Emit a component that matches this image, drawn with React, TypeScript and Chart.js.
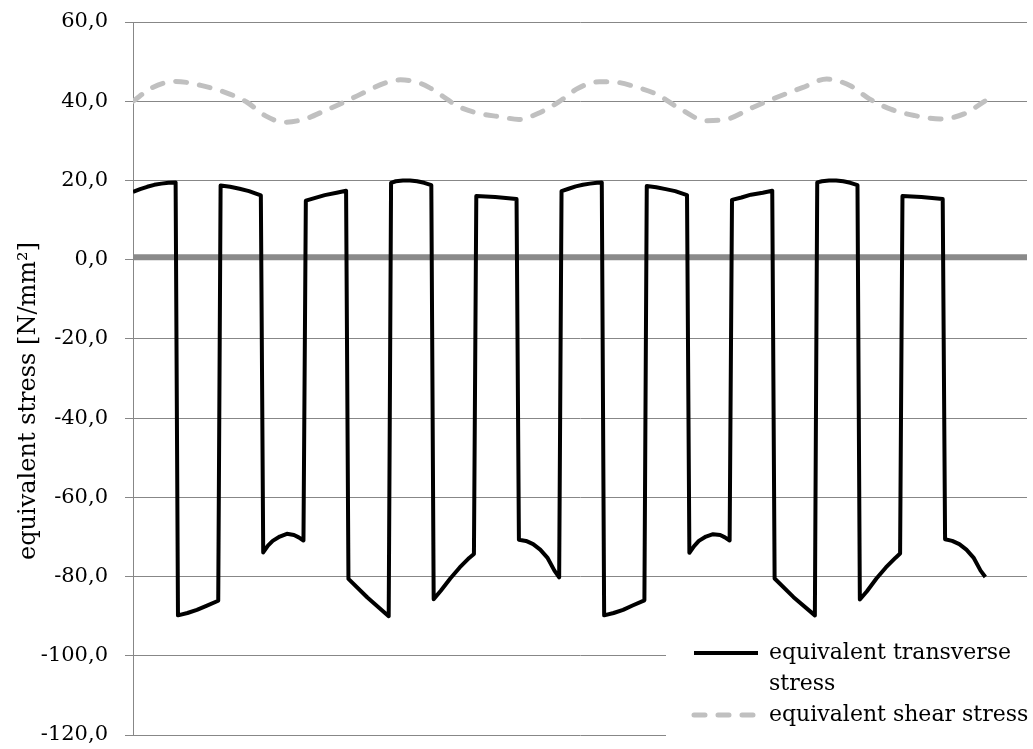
import React, { useEffect, useRef } from 'react';
import { Chart, registerables } from 'chart.js';

Chart.register(...registerables);

// ---- data (angle in degrees, stress in N/mm²) ----
const transverseAngle = [
  0, 3, 6, 9, 12, 15, 18,
  19, 23, 27, 31, 36,
  37, 41, 45, 49, 54,
  55, 57, 59, 62, 65, 68, 70, 72,
  73, 77, 81, 86, 90,
  91, 99, 108,
  109, 111, 114, 117, 120, 123, 126,
  127, 130, 134, 138, 142, 144,
  145, 153, 162,
  163, 166, 169, 172, 175, 178, 180,
  181, 184, 187, 190, 193, 196, 198,
  199, 203, 207, 211, 216,
  217, 221, 225, 229, 234,
  235, 237, 239, 242, 245, 248, 250, 252,
  253, 257, 261, 266, 270,
  271, 279, 288,
  289, 291, 294, 297, 300, 303, 306,
  307, 310, 314, 318, 322, 324,
  325, 333, 342,
  343, 346, 349, 352, 355, 358, 360,
];
const transverseStress = [
  17.1, 17.8, 18.4, 18.9, 19.2, 19.4, 19.5,
  -89.8, -89.2, -88.4, -87.4, -86.1,
  18.7, 18.4, 17.9, 17.3, 16.2,
  -73.9, -72.2, -71.0, -69.9, -69.2, -69.5, -70.1, -70.9,
  14.9, 15.6, 16.3, 16.9, 17.4,
  -80.6, -85.3, -90.0,
  19.4, 19.8, 20.0, 20.0, 19.8, 19.4, 18.8,
  -85.7, -83.6, -80.5, -77.7, -75.3, -74.3,
  16.1, 15.8, 15.3,
  -70.7, -71.0, -71.8, -73.2, -75.2, -78.5, -80.2,
  17.3, 17.9, 18.5, 18.9, 19.2, 19.4, 19.5,
  -89.8, -89.2, -88.4, -87.3, -86.0,
  18.6, 18.3, 17.8, 17.3, 16.3,
  -74.0, -72.3, -71.0, -69.9, -69.3, -69.5, -70.1, -70.9,
  15.1, 15.7, 16.4, 16.9, 17.4,
  -80.5, -85.2, -89.8,
  19.5, 19.8, 20.0, 20.0, 19.8, 19.4, 18.8,
  -85.8, -83.7, -80.5, -77.7, -75.3, -74.2,
  16.1, 15.8, 15.3,
  -70.6, -71.0, -71.8, -73.2, -75.2, -78.5, -80.1,
];

const shearAngle = [
  0, 8, 18, 30, 40, 48, 56, 64, 72, 81, 90,
  99, 106, 113, 120, 125, 131, 137, 147, 155, 163, 171, 180,
  188, 197, 204, 213, 221, 230, 242, 251, 262, 272,
  283, 293, 303, 311, 320, 330, 341, 351, 360,
];
const shearStress = [
  40.0, 43.4, 45.0, 43.8, 42.0, 39.8, 36.3, 34.7, 35.4, 37.6, 40.0,
  42.6, 44.5, 45.4, 44.8, 43.5, 41.2, 38.8, 36.8, 36.1, 35.4, 36.9, 39.9,
  43.3, 44.9, 44.8, 43.5, 41.8, 38.5, 35.1, 35.5, 38.5, 41.0,
  43.5, 45.6, 43.9, 40.6, 38.0, 36.4, 35.5, 36.8, 40.1,
];

const baselineAngle = [0, 377.6];
const baselineStress = [0.6, 0.6];

const xMin = 0;
const xMax = 377.6;
const yMin = -120;
const yMax = 60;
const yStep = 20;

const seriesLabels = ['equivalent transverse stress', 'equivalent shear stress', 'zero'];
const yAxisTitle = 'equivalent stress [N/mm²]';

const FONT = '"DejaVu Serif", serif';

const toPoints = (xs: number[], ys: number[]) => xs.map((x, i) => ({ x, y: ys[i] }));

const overlayPlugin = {
  id: 'overlay',
  afterDraw(chart: any) {
    const ctx: CanvasRenderingContext2D = chart.ctx;
    // y axis title
    ctx.save();
    ctx.translate(29, 401);
    ctx.rotate(-Math.PI / 2);
    ctx.font = `24px ${FONT}`;
    ctx.fillStyle = '#000';
    ctx.textAlign = 'center';
    ctx.textBaseline = 'middle';
    ctx.fillText(yAxisTitle, 0, 0);
    ctx.restore();

    // legend
    ctx.save();
    ctx.fillStyle = '#fff';
    ctx.fillRect(666, 636, 367, 113);
    ctx.font = `22px ${FONT}`;
    ctx.textAlign = 'left';
    ctx.textBaseline = 'middle';
    const lineH = 31;
    const maxW = 266;
    let y = 653;
    [0, 1].forEach((di) => {
      const ds = chart.data.datasets[di];
      const words = String(ds.label).split(' ');
      const lines: string[] = [];
      let cur = '';
      words.forEach((w) => {
        const test = cur ? cur + ' ' + w : w;
        if (ctx.measureText(test).width > maxW && cur) {
          lines.push(cur);
          cur = w;
        } else cur = test;
      });
      if (cur) lines.push(cur);
      ctx.save();
      ctx.strokeStyle = ds.borderColor;
      ctx.lineWidth = ds.borderWidth;
      ctx.lineCap = ds.borderCapStyle || 'butt';
      ctx.setLineDash(ds.borderDash || []);
      ctx.beginPath();
      ctx.moveTo(694, y);
      ctx.lineTo(758, y);
      ctx.stroke();
      ctx.restore();
      ctx.fillStyle = '#000';
      lines.forEach((ln, k) => ctx.fillText(ln, 769, y + k * lineH));
      y += lines.length * lineH;
    });
    ctx.restore();
  },
};

export default function App() {
  const ref = useRef<HTMLCanvasElement | null>(null);

  useEffect(() => {
    if (!ref.current) return;
    const chart = new Chart(ref.current, {
      type: 'line',
      data: {
        datasets: [
          {
            label: seriesLabels[0],
            data: toPoints(transverseAngle, transverseStress),
            borderColor: '#000000',
            borderWidth: 4,
            borderJoinStyle: 'round',
            tension: 0,
            pointRadius: 0,
            fill: false,
          },
          {
            label: seriesLabels[1],
            data: toPoints(shearAngle, shearStress),
            borderColor: '#c0c0c0',
            borderWidth: 5,
            borderDash: [11, 13],
            borderCapStyle: 'round',
            cubicInterpolationMode: 'monotone',
            pointRadius: 0,
            fill: false,
          },
          {
            label: seriesLabels[2],
            data: toPoints(baselineAngle, baselineStress),
            borderColor: '#8a8a8a',
            borderWidth: 6,
            pointRadius: 0,
            fill: false,
          },
        ],
      } as any,
      options: {
        responsive: false,
        animation: false,
        layout: { padding: { left: 0, top: 22, right: 6, bottom: 14 } },
        plugins: { legend: { display: false }, tooltip: { enabled: false } },
        elements: { point: { radius: 0 } },
        scales: {
          x: { type: 'linear', min: xMin, max: xMax, display: false },
          y: {
            min: yMin,
            max: yMax,
            ticks: {
              stepSize: yStep,
              color: '#000',
              padding: 17,
              font: { family: FONT, size: 21 },
              callback: (v: any) => Number(v).toFixed(1).replace('.', ','),
            },
            grid: { color: '#878787', lineWidth: 1, tickLength: 8, drawTicks: true },
            border: { display: true, color: '#878787', width: 1 },
            afterFit: (s: any) => {
              s.width = 133;
              s.paddingTop = 0;
              s.paddingBottom = 0;
            },
          },
        },
      } as any,
      plugins: [overlayPlugin],
    });
    return () => chart.destroy();
  }, []);

  return (
    <div style={{ position: 'fixed', left: 0, top: 0, width: 1033, height: 749, background: '#fff' }}>
      <canvas ref={ref} width={1033} height={749} style={{ display: 'block' }} />
    </div>
  );
}
